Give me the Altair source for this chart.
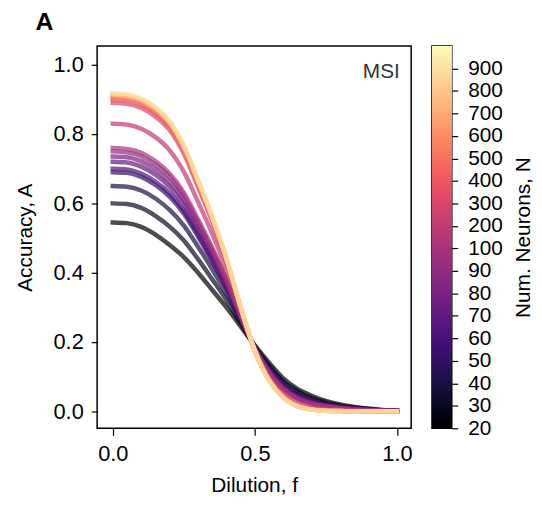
import json
import altair as alt
import pandas as pd

# ---- data ----
dilution = [0.00, 0.05, 0.10, 0.15, 0.20, 0.25, 0.30, 0.35, 0.40, 0.45, 0.50,
            0.55, 0.60, 0.65, 0.70, 0.75, 0.80, 0.85, 0.90, 0.95, 1.00]

neurons = [20, 30, 40, 50, 60, 70, 80, 90, 100, 200, 300, 400, 500, 600, 700, 800, 900]

acc_20 = [.545, .543, .532, .510, .480, .445, .400, .350, .300, .245, .190, .140, .095, .065, .045, .030, .020, .013, .008, .004, .002]
acc_30 = [.600, .598, .587, .564, .533, .493, .439, .381, .321, .253, .188, .133, .087, .058, .039, .026, .017, .011, .007, .003, .002]
acc_40 = [.650, .648, .637, .614, .581, .536, .475, .410, .340, .261, .186, .126, .079, .051, .034, .022, .015, .009, .006, .003, .001]
acc_50 = [.690, .688, .676, .653, .619, .570, .504, .432, .355, .267, .184, .120, .073, .045, .029, .019, .013, .008, .005, .002, .001]
acc_60 = [.700, .698, .686, .663, .629, .579, .511, .438, .359, .268, .184, .119, .072, .044, .028, .018, .012, .008, .005, .002, .001]
acc_70 = [.720, .718, .706, .683, .648, .596, .525, .449, .366, .271, .183, .116, .069, .041, .026, .017, .011, .007, .004, .002, .001]
acc_80 = [.735, .733, .721, .698, .662, .609, .536, .458, .372, .273, .182, .114, .067, .039, .024, .016, .010, .006, .004, .002, .001]
acc_90 = [.750, .747, .736, .712, .677, .622, .547, .466, .378, .275, .182, .112, .065, .037, .023, .014, .009, .006, .004, .002, .001]
acc_100 = [.760, .757, .746, .722, .686, .631, .554, .472, .381, .277, .181, .111, .063, .036, .022, .014, .009, .005, .003, .002, .001]
acc_200 = [.830, .827, .815, .791, .753, .691, .604, .512, .408, .287, .178, .101, .053, .026, .014, .008, .005, .003, .002, .001, .000]
acc_300 = [.890, .887, .875, .850, .811, .743, .647, .546, .430, .296, .176, .093, .044, .018, .008, .004, .002, .001, .000, .000, .000]
acc_400 = [.900, .897, .885, .860, .821, .752, .654, .552, .434, .298, .176, .092, .042, .017, .007, .003, .002, .001, .000, .000, .000]
acc_500 = [.905, .902, .890, .866, .826, .757, .659, .555, .437, .299, .175, .091, .041, .016, .006, .003, .001, .000, .000, .000, .000]
acc_600 = [.910, .907, .895, .870, .830, .761, .662, .558, .439, .300, .175, .090, .040, .015, .005, .002, .001, .000, .000, .000, .000]
acc_700 = [.912, .909, .897, .872, .832, .763, .664, .559, .440, .300, .175, .090, .040, .015, .005, .002, .001, .000, .000, .000, .000]
acc_800 = [.915, .912, .900, .875, .835, .765, .665, .560, .440, .300, .175, .090, .040, .015, .005, .002, .001, .000, .000, .000, .000]
acc_900 = [.918, .915, .903, .878, .838, .768, .668, .562, .441, .301, .175, .089, .039, .015, .005, .002, .001, .000, .000, .000, .000]

accuracy = [acc_20, acc_30, acc_40, acc_50, acc_60, acc_70, acc_80, acc_90, acc_100,
            acc_200, acc_300, acc_400, acc_500, acc_600, acc_700, acc_800, acc_900]

colorbar_labels = ["20", "30", "40", "50", "60", "70", "80", "90", "100",
                   "200", "300", "400", "500", "600", "700", "800", "900"]

y_ticks = [0.0, 0.2, 0.4, 0.6, 0.8, 1.0]
x_ticks = [0.0, 0.5, 1.0]

# ---- build table ----
rows = []
for i, (n, acc) in enumerate(zip(neurons, accuracy)):
    for f, a in zip(dilution, acc):
        rows.append({"f": f, "A": a, "N": n, "idx": i})
df = pd.DataFrame(rows)

FONT = "Liberation Sans"
color_scale = alt.Scale(scheme="magma", domain=[0, 17])

xscale = alt.Scale(domain=[-0.055, 1.05], nice=False, zero=False)
yscale = alt.Scale(domain=[-0.049, 1.054], nice=False, zero=False)

lines = alt.Chart(df).mark_line(
    strokeWidth=4.5, opacity=0.7, strokeCap="square", interpolate="monotone"
).encode(
    x=alt.X("f:Q", scale=xscale,
            axis=alt.Axis(values=x_ticks, format=".1f", title="Dilution, f",
                          tickSize=7, labelPadding=8, titlePadding=11)),
    y=alt.Y("A:Q", scale=yscale,
            axis=alt.Axis(values=y_ticks, format=".1f", title="Accuracy, A",
                          tickSize=6, labelPadding=8, titlePadding=18)),
    color=alt.Color("idx:Q", scale=color_scale, legend=None),
    detail="N:N",
)

msi = alt.Chart(pd.DataFrame({"f": [1.01], "A": [0.98], "t": ["MSI"]})).mark_text(
    align="right", baseline="middle", fontSize=21, font=FONT, color="#333333"
).encode(x="f:Q", y="A:Q", text="t:N")

main = alt.layer(lines, msi).properties(width=317, height=386)

cbar = alt.Chart(alt.sequence(0, 17, 0.05, as_="v")).transform_calculate(
    v2="datum.v + 0.15"
).mark_rect(clip=True, strokeWidth=0).encode(
    x=alt.value(0), x2=alt.value(20),
    y=alt.Y("v:Q", scale=alt.Scale(domain=[0, 17], nice=False, zero=False),
            axis=alt.Axis(orient="right", values=list(range(17)),
                          labelExpr=json.dumps(colorbar_labels) + "[datum.value]",
                          labelFontSize=21,
                          title="Num. Neurons, N", titleAngle=270, titleBaseline="top",
                          tickSize=6, labelPadding=10, titlePadding=10)),
    y2="v2:Q",
    color=alt.Color("v:Q", scale=color_scale, legend=None),
).properties(width=20, height=386)

chart = alt.hconcat(main, cbar, spacing=18).properties(
    title=alt.TitleParams("A", anchor="start", fontSize=25, fontWeight="bold",
                          font=FONT, dx=22, offset=10, color="black"),
    padding={"left": 5, "top": 0, "right": 0, "bottom": 0},
).configure_view(
    stroke="black", strokeWidth=1.5
).configure_axis(
    grid=False, domain=False, labelFont=FONT, titleFont=FONT,
    labelFontSize=22, titleFontSize=21, labelColor="black", titleColor="black",
    tickColor="black", tickWidth=1.2, titleFontWeight="normal"
)

chart.save("out.html", embed_options={"renderer": "svg", "actions": False})
